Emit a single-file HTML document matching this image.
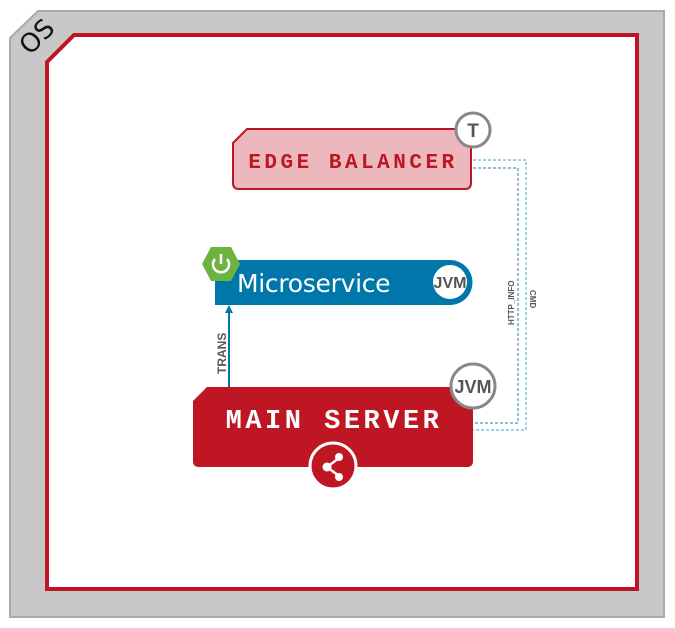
<!DOCTYPE html>
<html><head><style>body{margin:0;background:#fff}svg{display:block}</style></head><body>
<svg width="675" height="628" viewBox="0 0 675 628" xmlns="http://www.w3.org/2000/svg">
<polygon points="10,38 38,11 664,11 664,617 10,617" fill="#c8c8c8" stroke="#aaa" stroke-width="2"/>
<polygon points="47,62 74,35 637,35 637,589 47,589" fill="#fff" stroke="#be1622" stroke-width="4"/>
<text x="0" y="0" transform="translate(30,56) rotate(-45)" font-family="DejaVu Sans, sans-serif" font-size="26" fill="#111">OS</text>
<polyline points="473,168 518,168 518,423 473,423" fill="none" stroke="#1d7fb5" stroke-width="1" stroke-dasharray="3,2"/>
<polyline points="473,160 526,160 526,430 473,430" fill="none" stroke="#3fa3d6" stroke-width="1" stroke-dasharray="3,2"/>
<text transform="translate(514,325) rotate(-90)" font-family="Liberation Sans, sans-serif" font-size="8" font-weight="bold" fill="#555">HTTP_INFO</text>
<text transform="translate(530,290) rotate(90)" font-family="Liberation Sans, sans-serif" font-size="8" font-weight="bold" fill="#555">CMD</text>
<path d="M233,143 L247,129 L465,129 Q471,129 471,135 L471,183 Q471,189 465,189 L239,189 Q233,189 233,183 Z" fill="#ecb8bd" stroke="#be1622" stroke-width="2"/>
<text x="353" y="168" text-anchor="middle" font-family="Liberation Mono, monospace" font-weight="bold" font-size="21" letter-spacing="3.5" fill="#be1622">EDGE BALANCER</text>
<circle cx="473" cy="130" r="17" fill="#fff" stroke="#888" stroke-width="3"/>
<text x="473" y="137" text-anchor="middle" font-family="Liberation Sans, sans-serif" font-weight="bold" font-size="19" fill="#555">T</text>
<path d="M215,260 L450,260 A22.5,22.5 0 0 1 450,305 L215,305 Z" fill="#0077aa"/>
<text x="237" y="292" font-family="DejaVu Sans, sans-serif" font-size="25" letter-spacing="-0.3" fill="#fff">Microservice</text>
<circle cx="450" cy="282" r="18" fill="#fff" stroke="#0077aa" stroke-width="2"/>
<text x="450" y="288" text-anchor="middle" font-family="Liberation Sans, sans-serif" font-weight="bold" font-size="16" fill="#555">JVM</text>
<polygon points="211,247 231,247 240,264 231,281 211,281 202,264" fill="#6db33f"/>
<path d="M215,259 A8,8 0 1 0 227,259" fill="none" stroke="#fff" stroke-width="2.5"/>
<line x1="221" y1="254" x2="221" y2="264" stroke="#fff" stroke-width="2.5"/>
<line x1="229" y1="387" x2="229" y2="312" stroke="#0077aa" stroke-width="2"/>
<polygon points="229,305 225,313 233,313" fill="#0077aa"/>
<text transform="translate(226,374) rotate(-90)" font-family="Liberation Sans, sans-serif" font-weight="bold" font-size="12" fill="#555">TRANS</text>
<path d="M193,401 L207,387 L473,387 L473,461 Q473,467 467,467 L199,467 Q193,467 193,461 Z" fill="#be1622"/>
<text x="334" y="428" text-anchor="middle" font-family="Liberation Mono, monospace" font-weight="bold" font-size="27" letter-spacing="3.5" fill="#fff">MAIN SERVER</text>
<circle cx="473" cy="386" r="22" fill="#fff" stroke="#888" stroke-width="3"/>
<text x="473" y="393" text-anchor="middle" font-family="Liberation Sans, sans-serif" font-weight="bold" font-size="18" fill="#555">JVM</text>
<circle cx="333" cy="466" r="23" fill="#be1622" stroke="#fff" stroke-width="3"/>
<g stroke="#fff" stroke-width="2.5"><line x1="327" y1="467" x2="339" y2="458"/><line x1="327" y1="467" x2="339" y2="476"/></g>
<circle cx="327" cy="467" r="4.5" fill="#fff"/><circle cx="339" cy="457" r="4" fill="#fff"/><circle cx="339" cy="477" r="4" fill="#fff"/>
</svg>
</body></html>
